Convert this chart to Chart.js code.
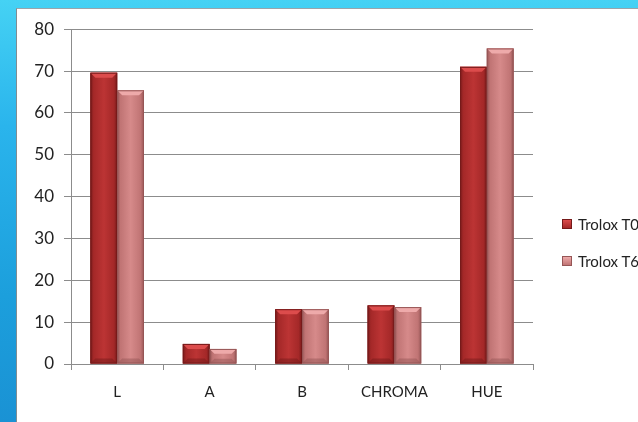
<!DOCTYPE html>
<html>
<head>
<meta charset="utf-8">
<script src="https://cdn.jsdelivr.net/npm/chart.js@4.4.1/dist/chart.umd.min.js"></script>
<style>
  html, body { margin: 0; padding: 0; }
  body {
    width: 638px; height: 422px; overflow: hidden; position: relative;
    background: linear-gradient(180deg, #45d2f4 0%, #2ab4ec 30%, #1c9fdc 70%, #1a92d4 100%);
    font-family: Lato, "Open Sans", sans-serif;
  }
  #panel {
    position: absolute; left: 16px; top: 8px; width: 640px; height: 420px;
    background: #fff; border-top: 1px solid #9aa4aa; border-left: 1px solid #7f8c92;
    box-sizing: border-box;
  }
  #wrap { position: absolute; left: 0; top: 0; width: 622px; height: 414px; }
  #legend { position: absolute; left: 545px; top: 196px; white-space: nowrap; }
  .item { height: 37px; font-size: 15px; color: #222; display: flex; align-items: center; }
  .box { width: 10px; height: 10px; margin-right: 6px; box-sizing: border-box; }
</style>
</head>
<body>
<div id="panel">
  <div id="wrap"><canvas id="colorChart"></canvas></div>
  <div id="legend"></div>
</div>
<script>
// Paramètres colorimétriques
const categories = ['L', 'A', 'B', 'CHROMA', 'HUE'];
const troloxT0 = [69.6, 4.8, 13.1, 14.0, 71.0];
const troloxT60 = [65.4, 3.6, 13.1, 13.6, 75.4];
const seriesNames = ['Trolox T0', 'Trolox T60'];
const yTicks = [0, 10, 20, 30, 40, 50, 60, 70, 80];

const palette = [
    { body: '#a42828', light: '#bc3434', top: '#dc4c4c', dark: '#761a1a' },
    { body: '#c07474', light: '#d68a8a', top: '#eeaaaa', dark: '#965656' }
];

// Effet de relief sur les barres
const bevelPlugin = {
    id: 'bevel',
    afterDatasetsDraw(chart) {
        const ctx = chart.ctx;
        chart.data.datasets.forEach((ds, i) => {
            const c = palette[i];
            chart.getDatasetMeta(i).data.forEach(bar => {
                const w = bar.width;
                const l = bar.x - w / 2, r = bar.x + w / 2;
                const t = bar.y, b = bar.base;
                const h = b - t;
                const bv = Math.min(5, h / 3);
                ctx.save();
                const g = ctx.createLinearGradient(l, 0, r, 0);
                g.addColorStop(0, c.dark);
                g.addColorStop(0.12, c.body);
                g.addColorStop(0.5, c.light);
                g.addColorStop(0.88, c.body);
                g.addColorStop(1, c.dark);
                ctx.fillStyle = g;
                ctx.fillRect(l, t, w, h);
                // biseau du haut
                ctx.fillStyle = c.top;
                ctx.beginPath();
                ctx.moveTo(l, t);
                ctx.lineTo(r, t);
                ctx.lineTo(r - bv, t + bv);
                ctx.lineTo(l + bv, t + bv);
                ctx.closePath();
                ctx.fill();
                // bas plus sombre
                ctx.fillStyle = c.dark;
                ctx.globalAlpha = 0.5;
                ctx.beginPath();
                ctx.moveTo(l, b);
                ctx.lineTo(r, b);
                ctx.lineTo(r - bv, b - bv);
                ctx.lineTo(l + bv, b - bv);
                ctx.closePath();
                ctx.fill();
                ctx.globalAlpha = 1;
                ctx.strokeStyle = c.dark;
                ctx.lineWidth = 1;
                ctx.strokeRect(l + 0.5, t + 0.5, w - 1, h - 1);
                ctx.restore();
            });
        });
    }
};

const ctx = document.getElementById('colorChart').getContext('2d');
const chart = new Chart(ctx, {
    type: 'bar',
    data: {
        labels: categories,
        datasets: [
            { label: seriesNames[0], data: troloxT0, backgroundColor: palette[0].body },
            { label: seriesNames[1], data: troloxT60, backgroundColor: palette[1].body }
        ]
    },
    options: {
        responsive: true,
        maintainAspectRatio: false,
        animation: false,
        layout: { padding: { left: 0, right: 106, top: 13, bottom: 19 } },
        datasets: { bar: { categoryPercentage: 0.58, barPercentage: 1 } },
        plugins: { legend: { display: false }, tooltip: { enabled: false } },
        scales: {
            x: {
                afterFit: s => { s.height = 40; },
                grid: { display: true, drawOnChartArea: false, offset: true, tickLength: 6, color: '#8c8c8c' },
                border: { color: '#8c8c8c' },
                ticks: { color: '#222', padding: 13, font: { family: 'Lato', size: 15 } }
            },
            y: {
                min: 0,
                max: 80,
                afterFit: s => { s.width = 54; },
                afterBuildTicks: s => { s.ticks = yTicks.map(v => ({ value: v })); },
                grid: { color: '#8c8c8c', tickLength: 7 },
                border: { color: '#8c8c8c' },
                ticks: { color: '#222', padding: 10, font: { family: 'Lato', size: 17 } }
            }
        }
    },
    plugins: [bevelPlugin]
});

// Légende
const legend = document.getElementById('legend');
chart.data.datasets.forEach((ds, i) => {
    const item = document.createElement('div');
    item.className = 'item';
    const box = document.createElement('span');
    box.className = 'box';
    box.style.background = 'linear-gradient(180deg,' + palette[i].top + ',' + palette[i].body + ')';
    box.style.border = '1px solid ' + palette[i].dark;
    item.appendChild(box);
    item.appendChild(document.createTextNode(ds.label));
    legend.appendChild(item);
});
</script>
</body>
</html>
